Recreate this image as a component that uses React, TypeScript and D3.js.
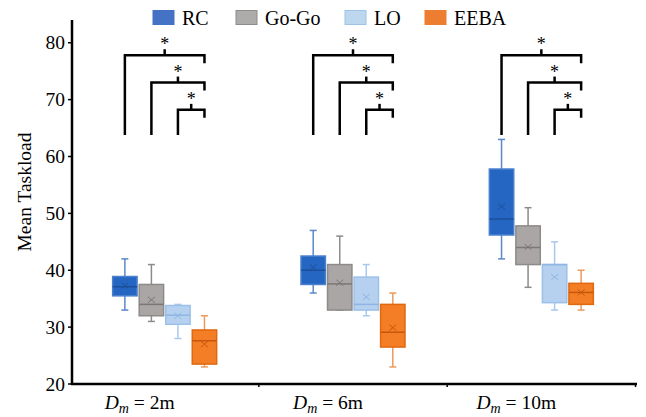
import React from "react";
import * as d3 from "d3";

// ---- data ----
const categories = ["2m", "6m", "10m"];
const series = ["RC", "Go-Go", "LO", "EEBA"];
const yTicks = [20, 30, 40, 50, 60, 70, 80];

// stats per category: [min, q1, median, q3, max, mean]
const rcStats = [
  [33, 35.5, 37.1, 38.9, 42, 37.3],
  [36, 37.5, 40.0, 42.5, 47, 40.5],
  [42, 46.2, 49.0, 57.8, 63, 51.2],
];
const gogoStats = [
  [31, 32, 34.0, 37.5, 41, 34.8],
  [33, 33, 37.6, 41.0, 46, 37.8],
  [37, 41, 44.0, 47.8, 51, 44.1],
];
const loStats = [
  [28, 30.5, 32.1, 33.8, 34, 32.0],
  [32, 33, 34.0, 38.8, 41, 35.3],
  [33, 34.3, 41.0, 41.0, 45, 38.8],
];
const eebaStats = [
  [23, 23.5, 27.6, 29.5, 32, 27.0],
  [23, 26.5, 29.1, 34.0, 36, 29.9],
  [33, 34.0, 36.1, 37.7, 40, 36.1],
];

const bracketPairs = [
  ["RC", "EEBA"],
  ["Go-Go", "EEBA"],
  ["LO", "EEBA"],
];
const bracketLevels = [77.8, 73.0, 68.2];
const bracketBase = 63.8;

const statsBySeries: Record<string, number[][]> = {
  RC: rcStats,
  "Go-Go": gogoStats,
  LO: loStats,
  EEBA: eebaStats,
};

const styles: Record<string, { fill: string; stroke: string; median: string; whisker: string; legend: string; legendStroke: string }> = {
  RC: { fill: "#2566C3", stroke: "#4A80CC", median: "#1D4F99", whisker: "#5B88CC", legend: "#4472C4", legendStroke: "#4472C4" },
  "Go-Go": { fill: "#AAA6A6", stroke: "#8E8A8A", median: "#7B7777", whisker: "#8E8A8A", legend: "#AEABAB", legendStroke: "#8C8C8C" },
  LO: { fill: "#B6D1EF", stroke: "#9CC0EA", median: "#8FB5E3", whisker: "#A9C8EE", legend: "#BDD7EE", legendStroke: "#9DC3E6" },
  EEBA: { fill: "#F37E25", stroke: "#E0690F", median: "#C8560C", whisker: "#EE9A5C", legend: "#ED7D31", legendStroke: "#ED7D31" },
};

const W = 646;
const H = 417;
const FONT = "'Liberation Serif', 'Times New Roman', serif";

export default function App() {
  const x = d3.scaleBand<string>().domain(categories).range([70.5, 635.5]);
  const inner = d3.scaleBand<string>().domain(series).range([-52, 52]).paddingInner(0.08);
  const y = d3.scaleLinear().domain([20, 84]).range([384, 20]);
  const axisX = 72;
  const bw = inner.bandwidth();
  const center = (c: string) => (x(c) as number) + x.bandwidth() / 2;
  const sx = (c: string, s: string) => center(c) + (inner(s) as number) + bw / 2;

  const legendX = [153, 236, 345, 425];

  return (
    <svg width={W} height={H} style={{ position: "absolute", left: 0, top: 0, background: "#fff" }} fontFamily={FONT}>
      <rect width={W} height={H} fill="#fff" />
      {/* legend */}
      {series.map((s, i) => (
        <g key={s}>
          <rect x={legendX[i]} y={10.5} width={21} height={14} fill={styles[s].legend} stroke={styles[s].legendStroke} strokeWidth={1} />
          <text x={legendX[i] + 29} y={25} fontSize={20} fill="#000">{s}</text>
        </g>
      ))}

      {/* y axis */}
      <line x1={axisX} x2={axisX} y1={y(84)} y2={y(20) + 1} stroke="#000" strokeWidth={2.5} />
      {yTicks.map((t) => (
        <g key={t}>
          <line x1={axisX - 4} x2={axisX} y1={y(t)} y2={y(t)} stroke="#000" strokeWidth={1.5} />
          <text x={axisX - 7} y={y(t) + 6.5} fontSize={19.5} textAnchor="end" fill="#000">{t}</text>
        </g>
      ))}
      <text transform={`translate(31,192) rotate(-90)`} fontSize={19.5} textAnchor="middle" fill="#000">Mean Taskload</text>

      {/* x axis */}
      <line x1={axisX - 1} x2={637} y1={y(20)} y2={y(20)} stroke="#000" strokeWidth={2.5} />
      {categories.map((c) => (
        <line key={c} x1={(x(c) as number) + x.bandwidth()} x2={(x(c) as number) + x.bandwidth()} y1={y(20)} y2={y(20) + 3} stroke="#000" strokeWidth={1.5} />
      ))}
      {categories.map((c) => (
        <text key={c} x={center(c) - 25} y={409} fontSize={19.5} textAnchor="middle" fill="#000">
          <tspan fontStyle="italic">D</tspan>
          <tspan fontStyle="italic" fontSize={14} dy={4}>m</tspan>
          <tspan dy={-4}>{" = " + c}</tspan>
        </text>
      ))}

      {/* boxes */}
      {categories.map((c, ci) =>
        series.map((s) => {
          const [mn, q1, med, q3, mx, mean] = statsBySeries[s][ci];
          const cx = sx(c, s);
          const st = styles[s];
          const cap = 3.5;
          return (
            <g key={c + s}>
              <line x1={cx} x2={cx} y1={y(q3)} y2={y(mx)} stroke={st.whisker} strokeWidth={1.5} />
              <line x1={cx} x2={cx} y1={y(q1)} y2={y(mn)} stroke={st.whisker} strokeWidth={1.5} />
              <line x1={cx - cap} x2={cx + cap} y1={y(mx)} y2={y(mx)} stroke={st.whisker} strokeWidth={1.5} />
              <line x1={cx - cap} x2={cx + cap} y1={y(mn)} y2={y(mn)} stroke={st.whisker} strokeWidth={1.5} />
              <rect x={cx - bw / 2} y={y(q3)} width={bw} height={Math.max(0.5, y(q1) - y(q3))} fill={st.fill} stroke={st.stroke} strokeWidth={1.5} />
              <line x1={cx - bw / 2} x2={cx + bw / 2} y1={y(med)} y2={y(med)} stroke={st.median} strokeWidth={1.5} />
              <line x1={cx - 3.5} x2={cx + 3.5} y1={y(mean) - 3} y2={y(mean) + 3} stroke={st.median} strokeWidth={1} />
              <line x1={cx - 3.5} x2={cx + 3.5} y1={y(mean) + 3} y2={y(mean) - 3} stroke={st.median} strokeWidth={1} />
            </g>
          );
        })
      )}

      {/* significance brackets */}
      {categories.map((c) =>
        bracketPairs.map(([a, b], i) => {
          const xa = sx(c, a);
          const xb = sx(c, b);
          const yl = y(bracketLevels[i]);
          const mid = (xa + xb) / 2;
          return (
            <g key={c + a}>
              <path d={`M${xa},${y(bracketBase)}V${yl}H${xb}V${yl + 8}`} fill="none" stroke="#000" strokeWidth={2.5} />
              <line x1={mid} x2={mid} y1={yl} y2={yl - 6} stroke="#000" strokeWidth={2.5} />
              <text x={mid} y={yl - 5} fontSize={18} textAnchor="middle" fill="#000">*</text>
            </g>
          );
        })
      )}
    </svg>
  );
}
